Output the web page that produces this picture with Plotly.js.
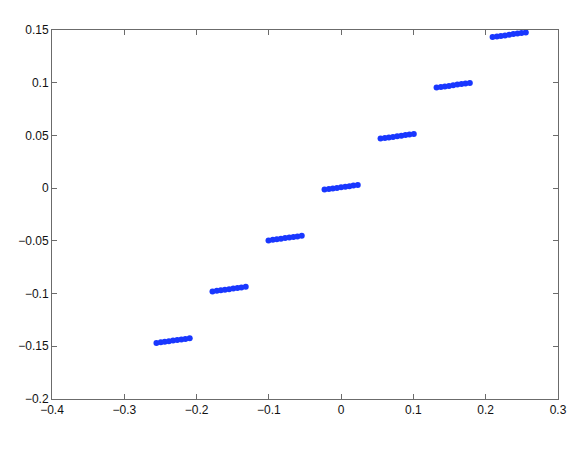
<!DOCTYPE html>
<html>
<head>
<meta charset="utf-8">
<script src="https://cdn.plot.ly/plotly-3.0.1.min.js"></script>
<style>
  html, body { margin: 0; padding: 0; background: #fff; }
  #chart { width: 581px; height: 454px; }
</style>
</head>
<body>
<div id="chart"></div>
<script>
// quantized samples, one row per step
const xVals = [
  -0.2555, -0.2495, -0.244, -0.2383, -0.2325, -0.2267, -0.221, -0.2155, -0.2095,
  -0.178, -0.172, -0.1665, -0.1608, -0.155, -0.1492, -0.1435, -0.138, -0.132,
  -0.1005, -0.0945, -0.089, -0.0833, -0.0775, -0.0717, -0.066, -0.0605, -0.0545,
  -0.023, -0.017, -0.0115, -0.0058, 0, 0.0058, 0.0115, 0.017, 0.023,
  0.0545, 0.0605, 0.066, 0.0717, 0.0775, 0.0833, 0.089, 0.0945, 0.1005,
  0.132, 0.138, 0.1435, 0.1492, 0.155, 0.1608, 0.1665, 0.172, 0.178,
  0.2095, 0.2155, 0.221, 0.2267, 0.2325, 0.2383, 0.244, 0.2495, 0.2555
];
const yVals = [
  -0.1468, -0.1462, -0.1457, -0.1452, -0.1446, -0.144, -0.1435, -0.143, -0.1424,
  -0.098, -0.0974, -0.0969, -0.0964, -0.0958, -0.0952, -0.0947, -0.0942, -0.0936,
  -0.0496, -0.049, -0.0485, -0.048, -0.0474, -0.0468, -0.0463, -0.0458, -0.0452,
  -0.0014, -0.0008, -0.0003, 0.0002, 0.0008, 0.0014, 0.0019, 0.0024, 0.003,
  0.047, 0.0476, 0.0481, 0.0486, 0.0492, 0.0498, 0.0503, 0.0508, 0.0514,
  0.0954, 0.096, 0.0965, 0.097, 0.0976, 0.0982, 0.0987, 0.0992, 0.0998,
  0.1433, 0.1439, 0.1444, 0.1449, 0.1455, 0.1461, 0.1466, 0.1471, 0.1477
];

let trace = {
  type: "scatter",
  mode: "markers",
  x: xVals,
  y: yVals,
  showlegend: false,
  hoverinfo: "x+y",
  marker: {
    color: "rgb(25,55,255)",
    size: 6,
    symbol: "circle",
  },
};

let axisStyle = {
  showgrid: false,
  zeroline: false,
  showline: true,
  linecolor: "#6b6b6b",
  linewidth: 1,
  mirror: "allticks",
  ticks: "inside",
  ticklen: 5,
  tickcolor: "#6b6b6b",
  tickfont: { family: "Liberation Sans, Arial, sans-serif", size: 12, color: "#111" },
};

let layout = {
  width: 581,
  height: 454,
  margin: { l: 52, r: 23, t: 30, b: 55 },
  paper_bgcolor: "#fff",
  plot_bgcolor: "#fff",
  xaxis: Object.assign({}, axisStyle, { range: [-0.4, 0.3], dtick: 0.1, tick0: 0 }),
  yaxis: Object.assign({}, axisStyle, { range: [-0.2, 0.15], dtick: 0.05, tick0: 0 }),
};

Plotly.newPlot("chart", [trace], layout, { displayModeBar: false, staticPlot: true });
</script>
</body>
</html>
